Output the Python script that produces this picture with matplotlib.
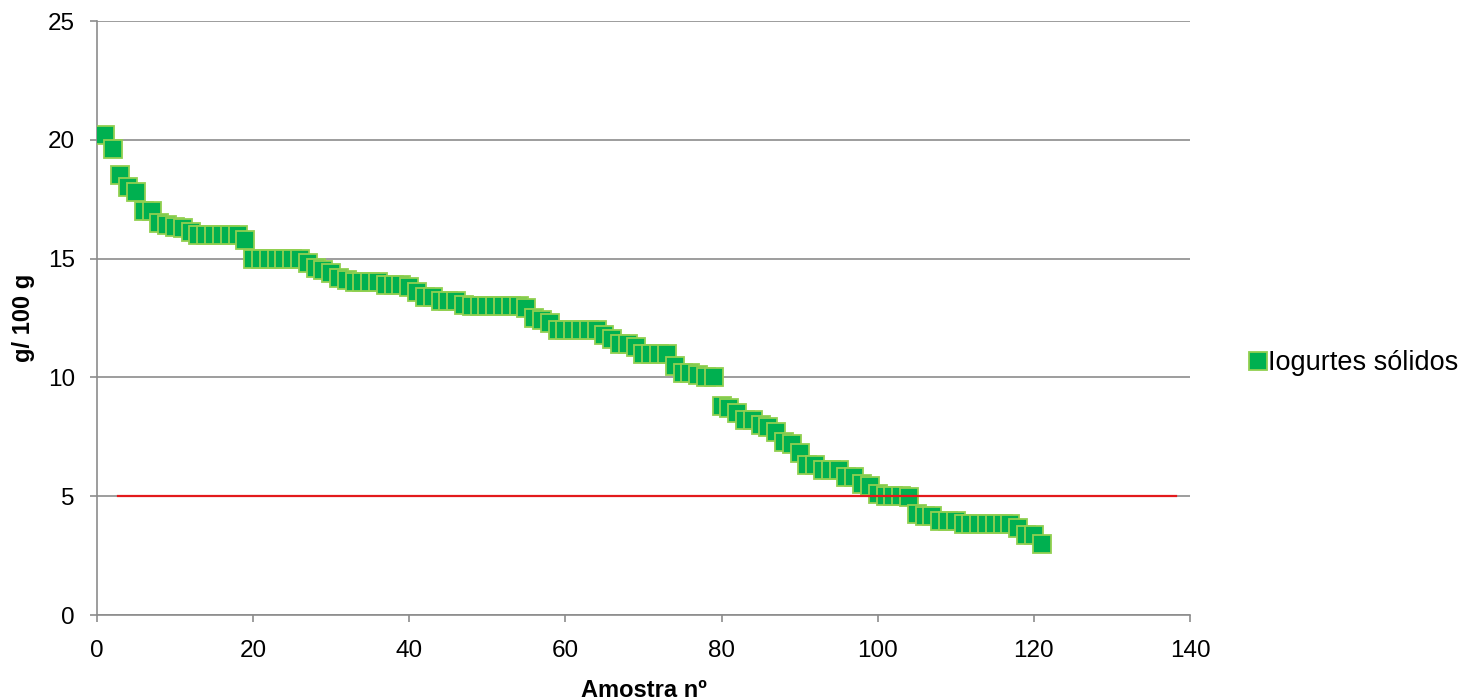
import matplotlib
matplotlib.use("Agg")
import matplotlib.pyplot as plt
import numpy as np

plt.rcParams['font.family'] = ['Liberation Sans', 'DejaVu Sans']

# ---- data ----
values = [
    20.2, 19.6, 18.5, 18.0, 17.8, 17.0, 17.0, 16.5, 16.4, 16.35,
    16.3, 16.1, 16.0, 16.0, 16.0, 16.0, 16.0, 16.0, 15.8, 15.0,
    15.0, 15.0, 15.0, 15.0, 15.0, 15.0, 14.8, 14.6, 14.5, 14.4,
    14.2, 14.1, 14.0, 14.0, 14.0, 14.0, 13.9, 13.9, 13.9, 13.8,
    13.6, 13.4, 13.4, 13.2, 13.2, 13.2, 13.05, 13.0, 13.0, 13.0,
    13.0, 13.0, 13.0, 13.0, 12.9, 12.5, 12.4, 12.3, 12.0, 12.0,
    12.0, 12.0, 12.0, 12.0, 11.8, 11.6, 11.4, 11.4, 11.3, 11.0,
    11.0, 11.0, 11.0, 10.5, 10.2, 10.2, 10.1, 10.0, 10.0, 8.8,
    8.7, 8.5, 8.2, 8.2, 8.0, 7.9, 7.7, 7.3, 7.2, 6.8,
    6.3, 6.3, 6.1, 6.1, 6.1, 5.8, 5.8, 5.5, 5.45, 5.1,
    5.0, 5.0, 5.0, 4.95, 4.25, 4.15, 4.15, 3.95, 3.95, 3.95,
    3.85, 3.85, 3.85, 3.85, 3.85, 3.85, 3.85, 3.65, 3.35, 3.35,
    3.0,
]
samples = list(range(1, len(values) + 1))
limit_x = [2.7, 138.2]
limit_y = [5.0, 5.0]
series_label = "Iogurtes sólidos"
x_ticks = [0, 20, 40, 60, 80, 100, 120, 140]
y_ticks = [0, 5, 10, 15, 20, 25]

W, H = 1478, 699
fig = plt.figure(figsize=(W / 100, H / 100), dpi=100)
ax = fig.add_axes([97 / W, 1 - 615 / H, (1190 - 97) / W, (615 - 21) / H])

grid_c = '#8c8c8c'
ax.set_xlim(0, 140)
ax.set_ylim(0, 25)
ax.set_xticks(x_ticks)
ax.set_yticks(y_ticks)
ax.yaxis.grid(True, color=grid_c, linewidth=1.2)
ax.set_axisbelow(True)
for s in ['top', 'right']:
    ax.spines[s].set_visible(False)
for s in ['left', 'bottom']:
    ax.spines[s].set_color(grid_c)
    ax.spines[s].set_linewidth(1.2)
ax.tick_params(axis='both', colors=grid_c, length=5, width=1.2,
               labelcolor='black', labelsize=17.5, direction='out')
ax.tick_params(axis='x', pad=13)
ax.tick_params(axis='y', pad=11)

ax.plot(samples, values, linestyle='none', marker='s', markersize=13,
        markerfacecolor='#00B050', markeredgecolor='#92D050',
        markeredgewidth=1.3, label=series_label, zorder=3)
ax.plot(limit_x, limit_y, color='#E31A1C', linewidth=1.6, zorder=4)

ax.set_xlabel("Amostra nº", fontsize=17, fontweight='bold', labelpad=12)
ax.set_ylabel("g/ 100 g", fontsize=17, fontweight='bold', labelpad=9)

leg = ax.legend(loc='center left', bbox_to_anchor=(1252 / W, 1 - 363 / H),
                bbox_transform=fig.transFigure, frameon=False,
                fontsize=19.5, handlelength=0.45, handletextpad=0.15,
                markerscale=0.95, borderaxespad=0, borderpad=0)

fig.savefig('out.png', dpi=100)
